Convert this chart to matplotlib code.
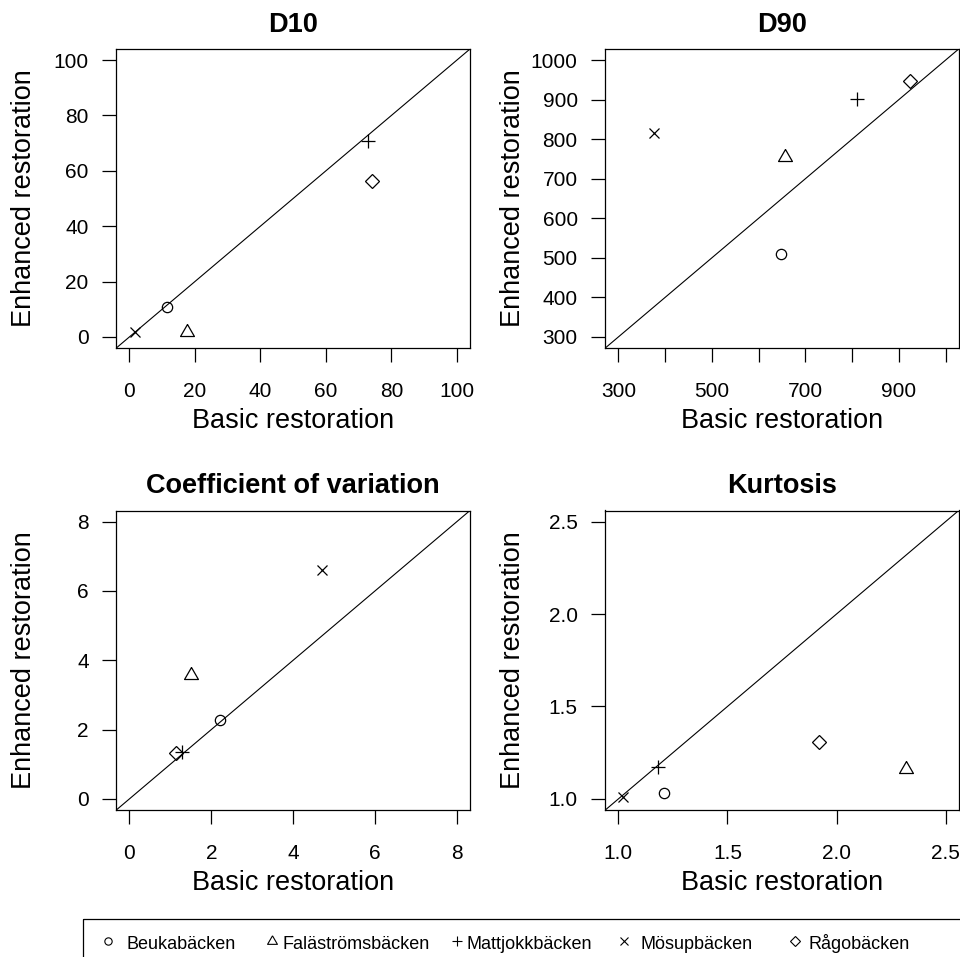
import matplotlib
matplotlib.use("Agg")
import matplotlib.pyplot as plt
import numpy as np
from matplotlib.patches import Rectangle

plt.rcParams['font.family'] = ['Liberation Sans', 'DejaVu Sans']

# streams and their values (basic vs enhanced restoration)
streams = ["Beukabäcken", "Faläströmsbäcken", "Mattjokkbäcken", "Mösupbäcken", "Rågobäcken"]

d10_basic = [11.5, 17.6, 72.8, 1.8, 74.0]
d10_enh = [10.7, 1.8, 70.8, 1.9, 56.4]

d90_basic = [647, 656, 811, 376, 924]
d90_enh = [510, 755, 901, 815, 946]

cv_basic = [2.22, 1.50, 1.28, 4.70, 1.14]
cv_enh = [2.28, 3.57, 1.34, 6.60, 1.32]

kurt_basic = [1.21, 2.32, 1.18, 1.02, 1.92]
kurt_enh = [1.03, 1.164, 1.17, 1.01, 1.31]

titles = ["D10", "D90", "Coefficient of variation", "Kurtosis"]
limits = [(0, 100), (300, 1000), (0, 8), (1.0, 2.5)]
xticks = [[0, 20, 40, 60, 80, 100],
          [300, 400, 500, 600, 700, 800, 900, 1000],
          [0, 2, 4, 6, 8],
          [1.0, 1.5, 2.0, 2.5]]
xticklabels = [["0", "20", "40", "60", "80", "100"],
               ["300", "", "500", "", "700", "", "900", ""],
               ["0", "2", "4", "6", "8"],
               ["1.0", "1.5", "2.0", "2.5"]]
yticklabels = [["0", "20", "40", "60", "80", "100"],
               ["300", "400", "500", "600", "700", "800", "900", "1000"],
               ["0", "2", "4", "6", "8"],
               ["1.0", "1.5", "2.0", "2.5"]]

basic = [d10_basic, d90_basic, cv_basic, kurt_basic]
enhanced = [d10_enh, d90_enh, cv_enh, kurt_enh]

# R-like plotting symbols (pch 1..5), sizes relative to a base char size
CS = 9.9
tri = [(0, 1.5551), (1.3468, -0.7776), (-1.3468, -0.7776), (0, 1.5551)]
markers = [('o', 0.75), (tri, 1.166), ('+', 1.0607), ('x', 0.75), ('D', 0.75)]

W, H = 960, 957
fig = plt.figure(figsize=(W / 100, H / 100), dpi=100)

# axes boxes in pixels: left, top, right, bottom
boxes = [(116.3, 49, 470, 348), (605.3, 49, 958.7, 348),
         (116.3, 510.5, 470, 810), (605.3, 510.5, 958.7, 810)]

for i in range(4):
    l, t, r, b = boxes[i]
    ax = fig.add_axes([l / W, 1 - b / H, (r - l) / W, (b - t) / H])
    lo, hi = limits[i]
    ext = 0.04 * (hi - lo)
    ax.set_xlim(lo - ext, hi + ext)
    ax.set_ylim(lo - ext, hi + ext)
    ax.axline((lo, lo), slope=1, color='black', lw=0.8)
    for j in range(len(streams)):
        m, s = markers[j]
        ax.plot(basic[i][j], enhanced[i][j], linestyle='none', marker=m,
                markersize=s * CS, mfc='none', mec='black', mew=0.9)
    ax.set_xticks(xticks[i])
    ax.set_xticklabels(xticklabels[i])
    ax.set_yticks(xticks[i])
    ax.set_yticklabels(yticklabels[i])
    ax.tick_params(direction='out', length=10.3, width=0.9, labelsize=15,
                   color='black')
    ax.tick_params(axis='x', pad=14.0)
    ax.tick_params(axis='y', pad=9.6)
    for sp in ax.spines.values():
        sp.set_linewidth(0.9)
    ax.set_title(titles[i], fontsize=19.5, fontweight='bold', pad=12.3)
    ax.set_xlabel("Basic restoration", fontsize=19.5)
    ax.set_ylabel("Enhanced restoration", fontsize=19.5)
    ax.xaxis.set_label_coords(0.5, -60.3 / (b - t))
    ax.yaxis.set_label_coords(-79.0 / (r - l), 0.5)

# legend at the bottom, drawn by hand in pixel space
lax = fig.add_axes([0, 0, 1, 1])
lax.set_xlim(0, W)
lax.set_ylim(H, 0)
lax.axis('off')
lax.add_patch(Rectangle((83, 919), 900, 60, fill=False, lw=0.9,
                        edgecolor='black', clip_on=False))
legend_marker_x = [108, 272, 457, 624, 795]
legend_text_x = [126, 283, 467, 640, 808]
for j in range(len(streams)):
    m, s = markers[j]
    lax.plot(legend_marker_x[j], 941, linestyle='none', marker=m,
             markersize=s * CS * 0.71, mfc='none', mec='black', mew=0.8)
    lax.text(legend_text_x[j], 949, streams[j], fontsize=13, va='baseline',
             ha='left')

fig.savefig("out.png", dpi=100)
